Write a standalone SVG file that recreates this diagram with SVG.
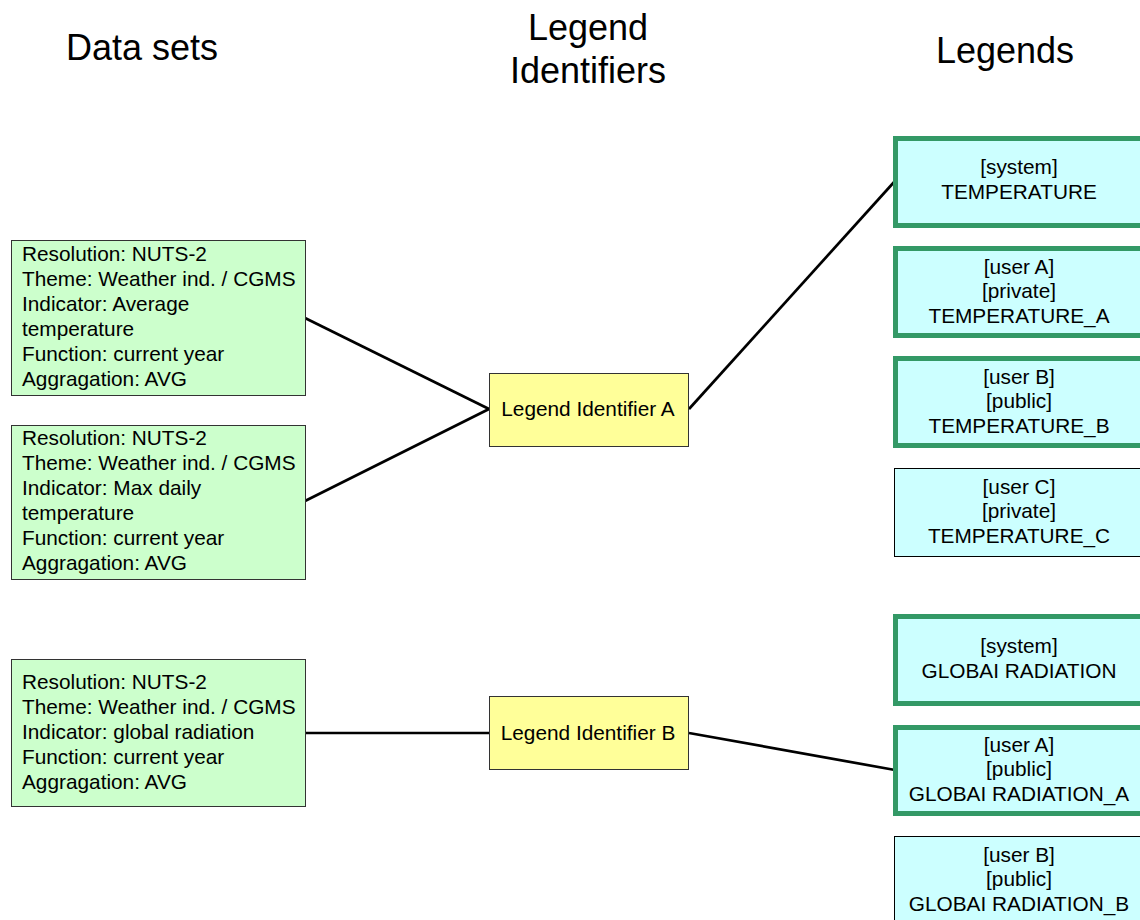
<svg xmlns="http://www.w3.org/2000/svg" width="1140" height="920" viewBox="0 0 1140 920">
  <style>
    text { font-family: "Liberation Sans", Arial, sans-serif; fill: #000; }
    .hdr { font-size: 36px; text-anchor: middle; }
    .body { font-size: 20.8px; }
    .mid { font-size: 20.8px; text-anchor: middle; }
    .dataset { fill: #CCFFCC; stroke: #333; stroke-width: 1; }
    .ident { fill: #FFFF99; stroke: #333; stroke-width: 1; }
    .legend { fill: #CCFFFF; stroke: #339966; stroke-width: 5; }
    .legend-plain { fill: #CCFFFF; stroke: #000; stroke-width: 1; }
    .conn line { stroke: #000; stroke-width: 2.7; }
  </style>

  <rect width="1140" height="920" fill="#fff"/>

  <!-- column headings -->
  <g id="headings">
    <text class="hdr" x="142" y="60">Data sets</text>
    <text class="hdr" x="588" y="40">Legend</text>
    <text class="hdr" x="588" y="83">Identifiers</text>
    <text class="hdr" x="1005" y="63">Legends</text>
  </g>

  <!-- connectors -->
  <g id="connectors" class="conn">
    <line x1="305" y1="318" x2="489" y2="409"/>
    <line x1="305" y1="501" x2="489" y2="409"/>
    <line x1="689" y1="409" x2="895" y2="181"/>
    <line x1="305" y1="733" x2="489" y2="733"/>
    <line x1="689" y1="733" x2="895" y2="770"/>
  </g>

  <!-- data sets -->
  <g id="dataset-avg-temp">
    <rect class="dataset" x="11.5" y="240.5" width="294" height="155"/>
    <text class="body" x="22" y="261">Resolution: NUTS-2</text>
    <text class="body" x="22" y="286">Theme: Weather ind. / CGMS</text>
    <text class="body" x="22" y="311">Indicator: Average</text>
    <text class="body" x="22" y="336">temperature</text>
    <text class="body" x="22" y="361">Function: current year</text>
    <text class="body" x="22" y="386">Aggragation: AVG</text>
  </g>
  <g id="dataset-max-temp">
    <rect class="dataset" x="11.5" y="425.5" width="294" height="154"/>
    <text class="body" x="22" y="445">Resolution: NUTS-2</text>
    <text class="body" x="22" y="470">Theme: Weather ind. / CGMS</text>
    <text class="body" x="22" y="495">Indicator: Max daily</text>
    <text class="body" x="22" y="520">temperature</text>
    <text class="body" x="22" y="545">Function: current year</text>
    <text class="body" x="22" y="570">Aggragation: AVG</text>
  </g>
  <g id="dataset-radiation">
    <rect class="dataset" x="11.5" y="659.5" width="294" height="147"/>
    <text class="body" x="22" y="689">Resolution: NUTS-2</text>
    <text class="body" x="22" y="714">Theme: Weather ind. / CGMS</text>
    <text class="body" x="22" y="739">Indicator: global radiation</text>
    <text class="body" x="22" y="764">Function: current year</text>
    <text class="body" x="22" y="789">Aggragation: AVG</text>
  </g>

  <!-- legend identifiers -->
  <g id="identifier-a">
    <rect class="ident" x="489.5" y="373.5" width="199" height="73"/>
    <text class="mid" x="588" y="416">Legend Identifier A</text>
  </g>
  <g id="identifier-b">
    <rect class="ident" x="489.5" y="696.5" width="199" height="73"/>
    <text class="mid" x="588" y="740">Legend Identifier B</text>
  </g>

  <!-- legends: temperature -->
  <g id="legend-temp-system">
    <rect class="legend" x="895.5" y="138.5" width="250" height="87"/>
    <text class="mid" x="1019" y="174">[system]</text>
    <text class="mid" x="1019" y="199">TEMPERATURE</text>
  </g>
  <g id="legend-temp-a">
    <rect class="legend" x="895.5" y="248.5" width="250" height="87"/>
    <text class="mid" x="1019" y="274">[user A]</text>
    <text class="mid" x="1019" y="298">[private]</text>
    <text class="mid" x="1019" y="323">TEMPERATURE_A</text>
  </g>
  <g id="legend-temp-b">
    <rect class="legend" x="895.5" y="358.5" width="250" height="87"/>
    <text class="mid" x="1019" y="384">[user B]</text>
    <text class="mid" x="1019" y="408">[public]</text>
    <text class="mid" x="1019" y="433">TEMPERATURE_B</text>
  </g>
  <g id="legend-temp-c">
    <rect class="legend-plain" x="894.5" y="468.5" width="250" height="88"/>
    <text class="mid" x="1019" y="494">[user C]</text>
    <text class="mid" x="1019" y="518">[private]</text>
    <text class="mid" x="1019" y="543">TEMPERATURE_C</text>
  </g>

  <!-- legends: global radiation -->
  <g id="legend-rad-system">
    <rect class="legend" x="895.5" y="616.5" width="250" height="87"/>
    <text class="mid" x="1019" y="653">[system]</text>
    <text class="mid" x="1019" y="678">GLOBAI RADIATION</text>
  </g>
  <g id="legend-rad-a">
    <rect class="legend" x="895.5" y="727.5" width="250" height="86"/>
    <text class="mid" x="1019" y="752">[user A]</text>
    <text class="mid" x="1019" y="776">[public]</text>
    <text class="mid" x="1019" y="801">GLOBAI RADIATION_A</text>
  </g>
  <g id="legend-rad-b">
    <rect class="legend-plain" x="894.5" y="836.5" width="250" height="90"/>
    <text class="mid" x="1019" y="862">[user B]</text>
    <text class="mid" x="1019" y="886">[public]</text>
    <text class="mid" x="1019" y="911">GLOBAI RADIATION_B</text>
  </g>
</svg>
